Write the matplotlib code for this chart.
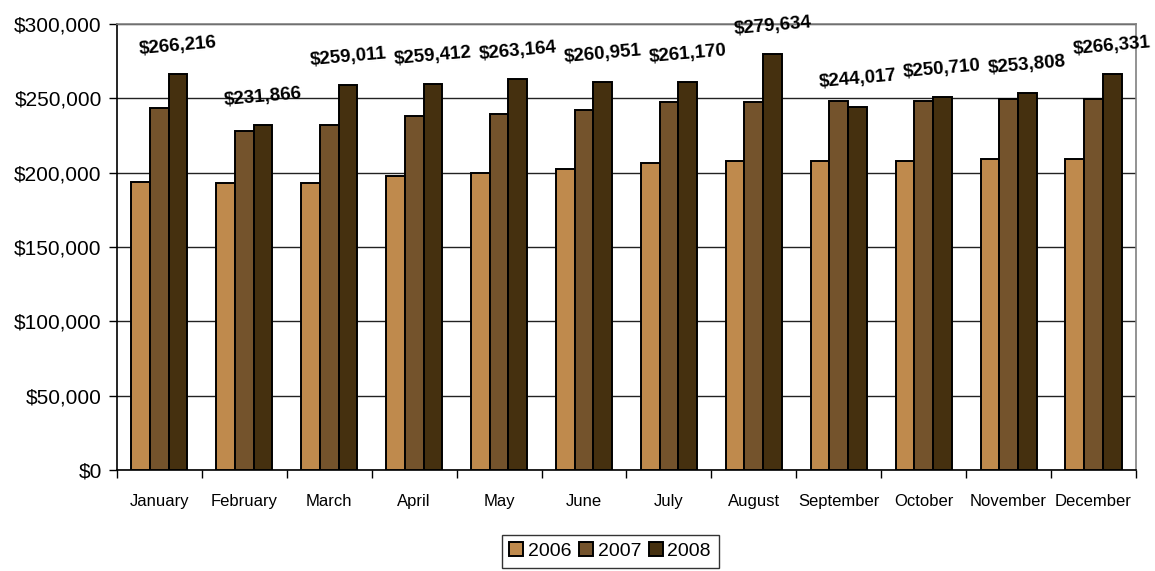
"""
Monthly average sale price, 2006-2008, grouped bar chart in an Excel-like style.
"""

import matplotlib
matplotlib.use("Agg")

import matplotlib.pyplot as plt
import numpy as np
from matplotlib.ticker import FuncFormatter

# -- Data ----------------------------------------------------------------------
months = ["January", "February", "March", "April", "May", "June", "July",
          "August", "September", "October", "November", "December"]
years = ["2006", "2007", "2008"]

values_2006 = [193700, 193000, 193000, 197800, 200000, 202500, 206500,
               208000, 208000, 208000, 209000, 209000]
values_2007 = [243500, 228000, 232000, 238000, 239500, 242000, 247500,
               247500, 248000, 248000, 249500, 249500]
values_2008 = [266216, 231866, 259011, 259412, 263164, 260951, 261170,
               279634, 244017, 250710, 253808, 266331]

colors = ["#BF8A4D", "#74532C", "#45300F"]

# -- Plot ----------------------------------------------------------------------
plt.rcParams["font.family"] = ["Liberation Sans", "DejaVu Sans"]

fig = plt.figure(figsize=(11.55, 5.71), dpi=100)
ax = fig.add_axes([0.1013, 0.177, 0.8822, 0.781])

x = np.arange(len(months))
width = 0.22
series = [values_2006, values_2007, values_2008]
for i, (vals, col, yr) in enumerate(zip(series, colors, years)):
    ax.bar(x + (i - 1) * width, vals, width, color=col, edgecolor="black",
           linewidth=1.4, label=yr, zorder=3)

# value labels above the 2008 bars
for xi, v in zip(x, values_2008):
    ax.annotate(f"${v:,.0f}", xy=(xi + width, v), xytext=(0, 20),
                textcoords="offset points", ha="center", va="center",
                fontsize=13.5, fontweight="bold", rotation=5,
                annotation_clip=False, zorder=5)

ax.set_ylim(0, 300000)
ax.set_xlim(-0.5, len(months) - 0.5)
ax.set_yticks(np.arange(0, 300001, 50000))
ax.yaxis.set_major_formatter(FuncFormatter(lambda v, p: f"${v:,.0f}"))
ax.tick_params(axis="y", labelsize=15, direction="out", length=6, width=1, pad=5)
ax.yaxis.grid(True, color="#222222", linewidth=1, zorder=0)

# category ticks at group boundaries, labels at centers
ax.set_xticks(np.arange(-0.5, len(months), 1.0))
ax.set_xticklabels([])
ax.set_xticks(x, minor=True)
ax.set_xticklabels(months, minor=True)
ax.tick_params(axis="x", which="major", direction="out", length=6, width=1)
ax.tick_params(axis="x", which="minor", length=0, labelsize=12, pad=17)

ax.spines["left"].set_color("black")
ax.spines["bottom"].set_color("black")
ax.spines["top"].set_color("#808080")
ax.spines["right"].set_color("#808080")
for s in ax.spines.values():
    s.set_linewidth(1.2)

leg = ax.legend(loc="upper center", bbox_to_anchor=(0.484, -0.145), ncol=3,
                frameon=True, fancybox=False, fontsize=14, handlelength=0.7,
                handleheight=0.7, handletextpad=0.25, columnspacing=0.4,
                borderpad=0.4, borderaxespad=0)
leg.get_frame().set_edgecolor("black")
leg.get_frame().set_linewidth(1)

fig.savefig("out.png", dpi=100, facecolor="white")
plt.close(fig)
